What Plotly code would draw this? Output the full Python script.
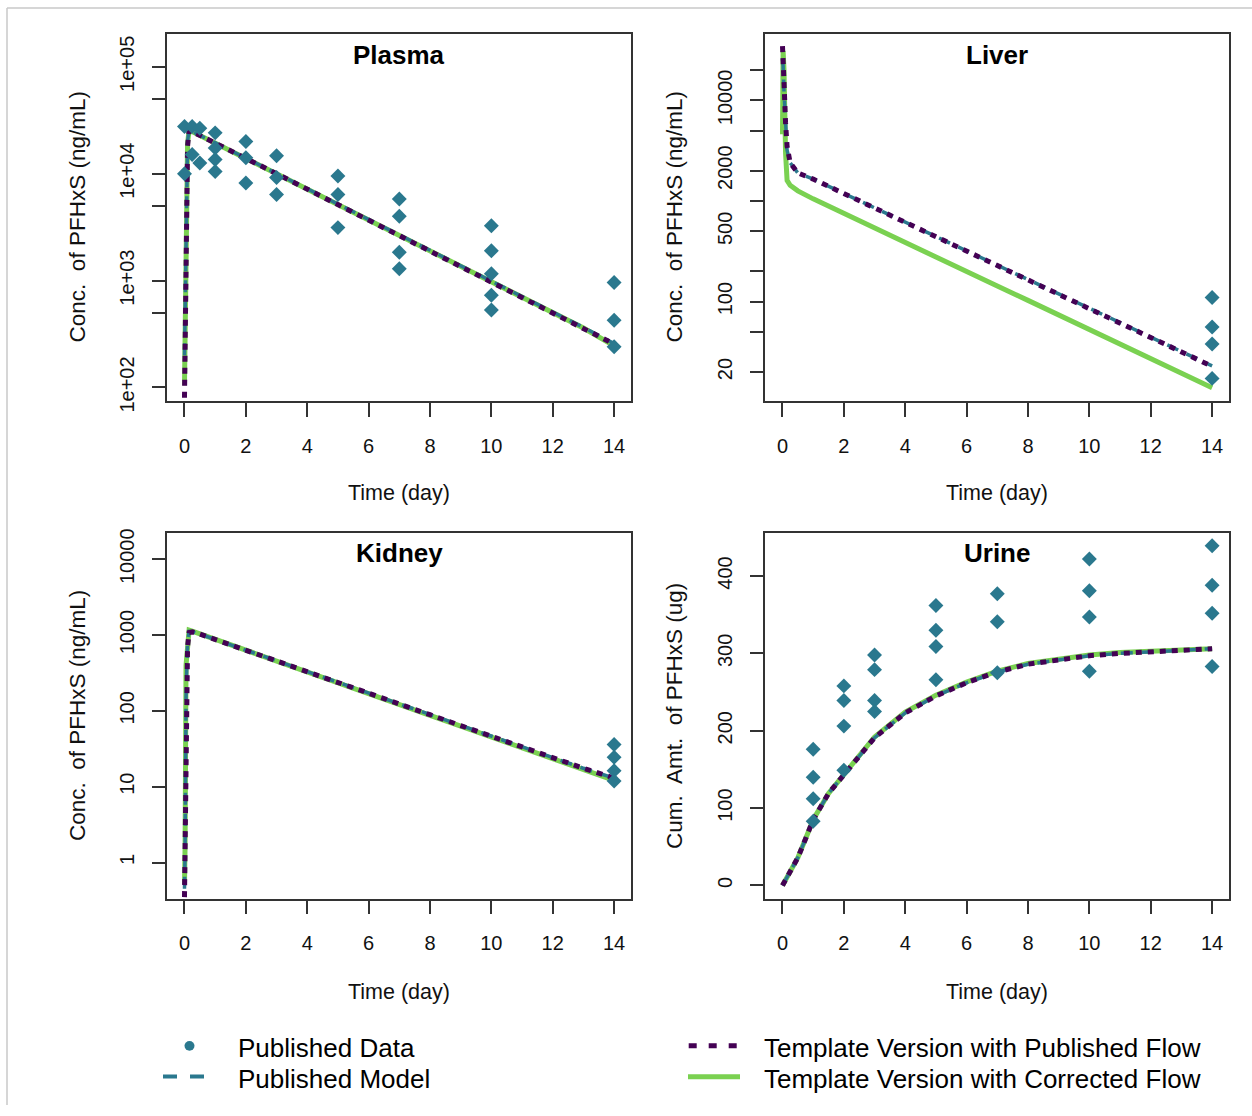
import plotly.graph_objects as go

# ---------------- data ----------------
DAY_TICKS = [0, 2, 4, 6, 8, 10, 12, 14]

# Plasma
PLASMA_OBS_T = [0, 0, 0.25, 0.25, 0.5, 0.5, 1, 1, 1, 1, 2, 2, 2, 3, 3, 3, 5, 5, 5,
                7, 7, 7, 7, 10, 10, 10, 10, 10, 14, 14, 14]
PLASMA_OBS = [27600, 10000, 27600, 15100, 26600, 12600, 24100, 17400, 13600, 10500,
              20000, 14100, 8200, 14700, 9200, 6400, 9500, 6400, 3130,
              5800, 4000, 1840, 1290, 3260, 1900, 1160, 730, 530, 960, 425, 240]
PLASMA_T = [0, 0.02, 0.05, 0.1, 0.15, 0.5, 1, 2, 3, 4, 5, 6, 7, 8, 9, 10, 11, 12, 13, 14]
PLASMA_PUB_MODEL = [200, 600, 6000, 20000, 25600, 23000, 19400, 14000, 10100, 7250, 5200,
                    3730, 2680, 1920, 1380, 990, 710, 510, 365, 258]
PLASMA_PUB_FLOW = [80, 250, 4000, 18000, 25600, 22900, 19300, 13900, 10000, 7180, 5150,
                   3700, 2650, 1900, 1360, 980, 700, 500, 360, 255]
PLASMA_CORR_FLOW = [105, 300, 5000, 19000, 25600, 22900, 19300, 13900, 10000, 7180, 5150,
                    3700, 2650, 1900, 1360, 980, 700, 500, 360, 245]

# Liver
LIVER_OBS_T = [14, 14, 14, 14]
LIVER_OBS = [110, 56, 38, 17.3]
LIVER_T = [0, 0.02, 0.05, 0.1, 0.15, 0.25, 0.5, 1, 2, 3, 4, 5, 6, 7, 8, 9, 10, 11, 12, 13, 14]
LIVER_PUB_MODEL = [26000, 22000, 12000, 5000, 3200, 2400, 1900, 1650, 1190, 860, 620, 445,
                   320, 231, 166, 119, 86, 62, 44.5, 32, 23]
LIVER_PUB_FLOW = [34500, 28000, 15000, 6000, 3500, 2400, 1900, 1650, 1186, 853, 614, 442,
                  318, 229, 164, 118, 85, 61, 44, 31.7, 22.8]
LIVER_CORR_FLOW = [4600, 31000, 20000, 3000, 1600, 1430, 1260, 1050, 750, 540, 388, 278,
                   200, 143, 103, 74, 53, 38, 27, 19.5, 14]

# Kidney
KIDNEY_OBS_T = [14, 14, 14, 14]
KIDNEY_OBS = [36, 24.5, 16.3, 11.9]
KIDNEY_T = [0, 0.02, 0.05, 0.1, 0.15, 0.25, 0.5, 1, 2, 3, 4, 5, 6, 7, 8, 9, 10, 11, 12, 13, 14]
KIDNEY_PUB_MODEL = [0.45, 1.5, 150, 800, 1120, 1110, 1030, 880, 635, 458, 330, 238, 171,
                    124, 89, 64, 46, 33.5, 24, 17.5, 13]
KIDNEY_PUB_FLOW = [0.35, 1.2, 60, 700, 1080, 1100, 1030, 877, 635, 458, 330, 238, 171,
                   124, 89, 64, 46, 33.5, 24, 17.5, 13]
KIDNEY_CORR_FLOW = [0.52, 1.7, 400, 900, 1160, 1125, 1035, 877, 631, 454, 327, 235, 169,
                    122, 87.5, 63, 45, 32.6, 23.4, 16.8, 12.1]

# Urine (cumulative amount)
URINE_OBS_T = [1, 1, 1, 1, 2, 2, 2, 2, 3, 3, 3, 3, 5, 5, 5, 5, 7, 7, 7,
               10, 10, 10, 10, 14, 14, 14, 14]
URINE_OBS = [176, 140, 112, 83, 258, 239, 206, 149, 298, 279, 239, 225,
             362, 330, 309, 266, 377, 341, 275, 422, 381, 347, 277, 439, 388, 352, 283]
URINE_T = [0, 0.25, 0.5, 0.75, 1, 1.5, 2, 3, 4, 5, 6, 7, 8, 9, 10, 11, 12, 13, 14]
URINE_PUB_MODEL = [0, 17, 36, 60, 85, 119, 143, 191, 223, 245, 262, 276, 286, 292, 297,
                   300, 302, 304, 306]
URINE_PUB_FLOW = [0, 17, 36, 60, 85, 119, 143, 191, 223, 245, 262, 276, 286, 292, 297,
                  300, 302, 304, 306]
URINE_CORR_FLOW = [0, 17, 36, 60, 85, 119, 144, 192, 224, 246, 263, 277, 287, 293, 298,
                   301, 303, 304, 306]

PANEL_TITLES = ["Plasma", "Liver", "Kidney", "Urine"]
LEGEND_LABELS = ["Published Data", "Published Model",
                 "Template Version with Published Flow", "Template Version with Corrected Flow"]

# ---------------- style ----------------
W, H = 1252, 1116
TEAL = "#2A788E"
PURPLE = "#440154"
GREEN = "#7AD151"
AX = "#333333"
FONT = "Liberation Sans, Arial, sans-serif"


def px(x):
    return x / W


def py(y):
    return 1 - y / H


fig = go.Figure()

panels = [
    (PLASMA_T, PLASMA_PUB_MODEL, PLASMA_PUB_FLOW, PLASMA_CORR_FLOW, PLASMA_OBS_T, PLASMA_OBS),
    (LIVER_T, LIVER_PUB_MODEL, LIVER_PUB_FLOW, LIVER_CORR_FLOW, LIVER_OBS_T, LIVER_OBS),
    (KIDNEY_T, KIDNEY_PUB_MODEL, KIDNEY_PUB_FLOW, KIDNEY_CORR_FLOW, KIDNEY_OBS_T, KIDNEY_OBS),
    (URINE_T, URINE_PUB_MODEL, URINE_PUB_FLOW, URINE_CORR_FLOW, URINE_OBS_T, URINE_OBS),
]

for i, (t, pm, pf, cf, ot, ov) in enumerate(panels):
    xa = "x" if i == 0 else f"x{i+1}"
    ya = "y" if i == 0 else f"y{i+1}"
    fig.add_trace(go.Scatter(x=t, y=cf, mode="lines", xaxis=xa, yaxis=ya,
                             line=dict(color=GREEN, width=5), showlegend=False))
    fig.add_trace(go.Scatter(x=t, y=pm, mode="lines", xaxis=xa, yaxis=ya,
                             line=dict(color=TEAL, width=3.5, dash="12px,9px"), showlegend=False))
    fig.add_trace(go.Scatter(x=t, y=pf, mode="lines", xaxis=xa, yaxis=ya,
                             line=dict(color=PURPLE, width=5, dash="6px,6px"), showlegend=False))
    fig.add_trace(go.Scatter(x=ot, y=ov, mode="markers", xaxis=xa, yaxis=ya,
                             marker=dict(symbol="diamond", size=11.5, color=TEAL),
                             showlegend=False))

# ---------------- axes ----------------
XL = [167.3, 765.3]
XR = [631.3, 1229.3]
YT = [29.3, 536.0]
YB = [401.7, 906.7]

common = dict(showline=True, mirror=True, linecolor=AX, linewidth=1.5,
              ticks="outside", ticklen=14, tickwidth=1.5, tickcolor=AX,
              showgrid=False, zeroline=False,
              tickfont=dict(family=FONT, size=20, color="#111111"))

layout = {}
for i in range(4):
    col, row = i % 2, i // 2
    xk = "xaxis" if i == 0 else f"xaxis{i+1}"
    yk = "yaxis" if i == 0 else f"yaxis{i+1}"
    layout[xk] = dict(common, domain=[px(XL[col]), px(XR[col])],
                      anchor="y" if i == 0 else f"y{i+1}",
                      range=[-0.56, 14.56], tickvals=DAY_TICKS,
                      ticktext=[str(v) for v in DAY_TICKS], ticklabelstandoff=12)
    layout[yk] = dict(common, domain=[py(YB[row]), py(YT[row])],
                      anchor="x" if i == 0 else f"x{i+1}",
                      tickangle=-90, ticklabelstandoff=10)

layout["yaxis"].update(type="log", range=[1.874, 5.308],
                       tickvals=[1e2, 5e2, 1e3, 5e3, 1e4, 5e4, 1e5],
                       ticktext=["1e+02", "", "1e+03", "", "1e+04", "", "1e+05"])
layout["yaxis2"].update(type="log", range=[1.014, 4.66],
                        tickvals=[20, 50, 100, 200, 500, 1000, 2000, 5000, 10000, 20000],
                        ticktext=["20", "", "100", "", "500", "", "2000", "", "10000", ""])
layout["yaxis3"].update(type="log", range=[-0.477, 4.342],
                        tickvals=[1, 10, 100, 1000, 10000],
                        ticktext=["1", "10", "100", "1000", "10000"])
layout["yaxis4"].update(type="linear", range=[-17.1, 455.2],
                        tickvals=[0, 100, 200, 300, 400],
                        ticktext=["0", "100", "200", "300", "400"])

annotations = []
ylabels = ["Conc.\u00a0 of PFHxS (ng/mL)", "Conc.\u00a0 of PFHxS (ng/mL)",
           "Conc.\u00a0 of PFHxS (ng/mL)", "Cum.\u00a0 Amt.\u00a0 of PFHxS (ug)"]
ytitle_x = [77, 674]
xtitle_y = [495, 1001]
ptitle_y = [51, 556]
for i in range(4):
    col, row = i % 2, i // 2
    cx = (XL[col] + XR[col]) / 2
    cy = (YT[row] + YB[row]) / 2
    annotations.append(dict(text="<b>" + PANEL_TITLES[i] + "</b>", x=px(cx), y=py(ptitle_y[row]),
                            xref="paper", yref="paper", showarrow=False,
                            xanchor="center", yanchor="middle",
                            font=dict(family=FONT, size=26, color="#000000")))
    annotations.append(dict(text="Time (day)", x=px(cx), y=py(xtitle_y[row]),
                            xref="paper", yref="paper", showarrow=False,
                            xanchor="center", yanchor="middle",
                            font=dict(family=FONT, size=21.5, color="#111111")))
    annotations.append(dict(text=ylabels[i], x=px(ytitle_x[col]), y=py(cy), textangle=-90,
                            xref="paper", yref="paper", showarrow=False,
                            xanchor="center", yanchor="middle",
                            font=dict(family=FONT, size=22.5, color="#111111")))

# ---------------- legend (drawn below the panels) ----------------
leg_pos = [(236, 1058), (236, 1090), (762, 1058), (762, 1090)]
for lab, (lx, ly) in zip(LEGEND_LABELS, leg_pos):
    annotations.append(dict(text=lab, x=px(lx), y=py(ly), xref="paper", yref="paper",
                            showarrow=False, xanchor="left", yanchor="middle",
                            font=dict(family=FONT, size=26, color="#000000")))

shapes = [
    # window frame
    dict(type="line", xref="paper", yref="paper", x0=px(7), x1=px(7), y0=py(3), y1=0,
         line=dict(color="#c8c8c8", width=1.5)),
    dict(type="line", xref="paper", yref="paper", x0=px(7), x1=1, y0=py(3), y1=py(3),
         line=dict(color="#c8c8c8", width=1.5)),
    # legend keys
    dict(type="circle", xref="paper", yref="paper", x0=px(184.5), x1=px(194.5),
         y0=py(1051), y1=py(1061), fillcolor=TEAL, line=dict(width=0)),
    dict(type="line", xref="paper", yref="paper", x0=px(163), x1=px(205),
         y0=py(1087), y1=py(1087), line=dict(color=TEAL, width=4, dash="14px,13px")),
    dict(type="line", xref="paper", yref="paper", x0=px(688.7), x1=px(736.7),
         y0=py(1056), y1=py(1056), line=dict(color=PURPLE, width=5, dash="8px,12px")),
    dict(type="line", xref="paper", yref="paper", x0=px(688), x1=px(740),
         y0=py(1087.3), y1=py(1087.3), line=dict(color=GREEN, width=5)),
]

fig.update_layout(
    width=W, height=H, margin=dict(l=0, r=0, t=0, b=0),
    paper_bgcolor="white", plot_bgcolor="white",
    showlegend=False, annotations=annotations, shapes=shapes,
    font=dict(family=FONT),
    **layout,
)

fig.write_html("out.html")
